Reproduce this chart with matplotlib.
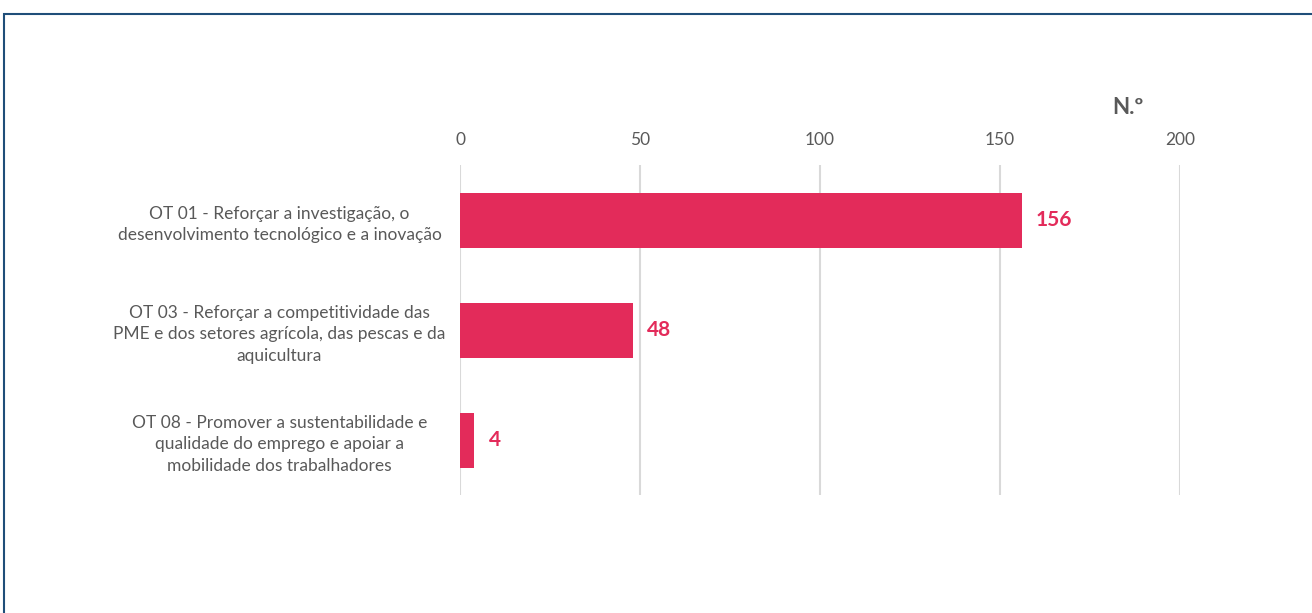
import matplotlib.pyplot as plt
from matplotlib.patches import Rectangle

plt.rcParams['font.family'] = ['Lato', 'DejaVu Sans']

categorias = [
    "OT 01 - Reforçar a investigação, o\ndesenvolvimento tecnológico e a inovação",
    "OT 03 - Reforçar a competitividade das\nPME e dos setores agrícola, das pescas e da\naquicultura",
    "OT 08 - Promover a sustentabilidade e\nqualidade do emprego e apoiar a\nmobilidade dos trabalhadores",
]
valores = [156, 48, 4]
ticks_x = [0, 50, 100, 150, 200]

cor_barra = '#E32B5A'
cinza = '#595959'

fig = plt.figure(figsize=(13.12, 6.13), dpi=100)
ax = fig.add_axes([460 / 1312, 118 / 613, 720 / 1312, 330 / 613])

pos = list(range(len(categorias)))
ax.barh(pos, valores, height=0.5, color=cor_barra, zorder=3)
for p, v in zip(pos, valores):
    ax.text(v + 4, p, str(v), va='center', ha='left', color=cor_barra,
            fontsize=15, fontweight='bold')

ax.set_xlim(0, 200)
ax.set_ylim(2.5, -0.5)
ax.set_xticks(ticks_x)
ax.xaxis.tick_top()
ax.tick_params(axis='x', length=0, pad=12, labelsize=12.5, labelcolor=cinza)
ax.set_yticks(pos)
ax.set_yticklabels(categorias, ha='center', fontsize=12.5, color=cinza,
                   linespacing=1.45)
ax.tick_params(axis='y', length=0, pad=130)
ax.grid(axis='x', color='#D9D9D9', linewidth=1.5, zorder=0)
for s in ax.spines.values():
    s.set_visible(False)

fig.text(1128 / 1312, 1 - 107 / 613, "N.º", ha='center', va='center',
         fontsize=16, fontweight='bold', color=cinza)

# moldura azul
fig.patches.append(Rectangle((4 / 1312, -0.1), 1.2, 1 - 14 / 613 + 0.1,
                             transform=fig.transFigure, fill=False,
                             edgecolor='#1F4E79', linewidth=1.5))

fig.savefig('out.png', dpi=100)
